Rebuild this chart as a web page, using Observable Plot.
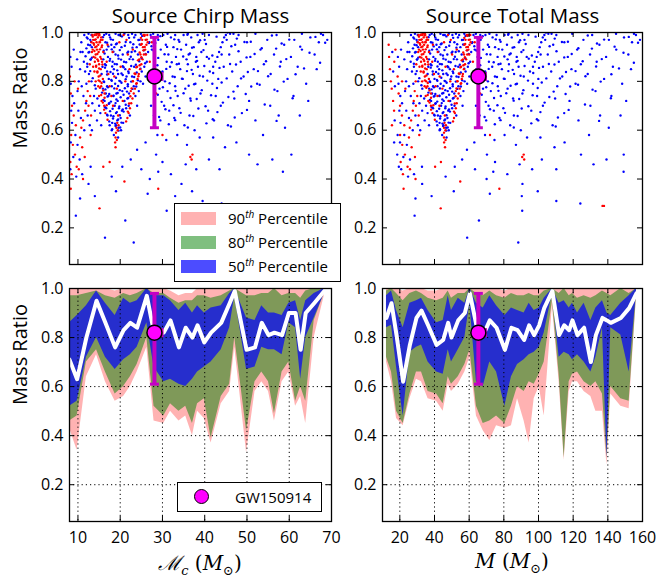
<!DOCTYPE html>
<html><head><meta charset="utf-8">
<script src="https://cdn.jsdelivr.net/npm/d3@7"></script>
<script src="https://cdn.jsdelivr.net/npm/@observablehq/plot@0.6"></script>
<style>
body{margin:0;background:#fff;}
#wrap{position:relative;width:659px;height:580px;font-family:"Open Sans",sans-serif;color:#000;overflow:hidden;}
#wrap svg{position:absolute;left:0;top:0;}
.leg{position:absolute;background:#fff;border:1px solid #000;box-sizing:border-box;}
.sw{position:absolute;left:6px;width:35px;height:13px;}
.lt{position:absolute;left:53px;font-size:15px;line-height:15px;white-space:nowrap;}
.lt sup{font-size:10px;font-style:italic;vertical-align:6px;line-height:0;}
.xl{position:absolute;top:549px;font-family:"DejaVu Serif",serif;font-size:20px;white-space:nowrap;transform:translateX(-50%);}
.xl sub{font-size:13px;}
</style></head><body><div id="wrap"></div>
<script>
// ---- tick labels ----
const yTicks = [0.2, 0.4, 0.6, 0.8, 1.0];
const mcTicks = [10, 20, 30, 40, 50, 60, 70];
const mTicks = [20, 40, 60, 80, 100, 120, 140, 160];

// ---- GW150914 (source chirp mass, total mass, mass ratio: low, median, high) ----
const gwMc = [26.6, 28.1, 29.9];
const gwM = [61.9, 65.3, 69.4];
const gwQ = [0.61, 0.82, 0.98];

// ---- percentile bands vs chirp mass ----
const mcX   = [8.0,9.8,12.0,14.4,16.5,18.8,20.8,22.4,24.0,26.3,28.0,30.3,31.9,33.9,35.5,37.1,38.3,39.9,41.5,43.9,45.9,47.1,49.9,51.9,53.5,55.1,56.5,58.3,59.9,61.5,62.7,63.9,65.9,68.3];
const mcMed = [0.71,0.63,0.80,0.95,0.86,0.76,0.83,0.86,0.84,0.97,0.82,0.82,0.87,0.76,0.84,0.80,0.85,0.78,0.82,0.86,0.94,0.99,0.75,0.76,0.86,0.81,0.82,0.81,0.90,0.90,0.75,0.90,0.94,0.99];
const mc50Hi= [0.86,0.89,0.93,0.99,0.94,0.89,0.96,0.94,0.95,1.00,0.97,0.97,0.95,0.91,0.94,0.90,0.93,0.90,0.92,0.93,0.98,1.00,0.88,0.87,0.93,0.90,0.90,0.89,0.94,0.95,0.87,0.95,0.98,1.00];
const mc50Lo= [0.52,0.54,0.72,0.80,0.72,0.67,0.71,0.73,0.76,0.86,0.68,0.62,0.63,0.61,0.60,0.63,0.66,0.68,0.70,0.75,0.84,0.97,0.67,0.68,0.76,0.75,0.75,0.73,0.86,0.84,0.63,0.80,0.88,0.98];
const mc80Hi= [0.97,0.97,0.98,0.99,0.97,0.96,0.98,0.97,0.98,1.00,0.98,0.98,0.96,0.94,0.95,0.95,0.97,0.97,0.96,0.97,0.99,1.00,0.97,0.97,0.98,0.98,1.00,0.97,0.98,0.98,0.96,0.99,1.00,1.00];
const mc80Lo= [0.46,0.48,0.70,0.75,0.66,0.57,0.60,0.64,0.69,0.80,0.52,0.48,0.53,0.50,0.52,0.45,0.53,0.55,0.39,0.56,0.61,0.80,0.42,0.62,0.66,0.62,0.49,0.66,0.70,0.54,0.60,0.54,0.87,0.98];
const mc90Hi= [1.00,1.00,1.00,1.00,1.00,0.99,1.00,1.00,1.00,1.00,1.00,1.00,0.99,0.97,0.98,0.98,1.00,1.00,1.00,1.00,1.00,1.00,1.00,1.00,1.00,1.00,1.00,1.00,1.00,1.00,1.00,1.00,1.00,1.00];
const mc90Lo= [0.43,0.34,0.64,0.73,0.62,0.54,0.56,0.60,0.66,0.76,0.46,0.45,0.50,0.46,0.48,0.40,0.50,0.47,0.37,0.53,0.58,0.76,0.33,0.58,0.62,0.58,0.46,0.62,0.66,0.52,0.56,0.45,0.80,0.97];

// ---- percentile bands vs total mass ----
const tmX   = [12.3,15.2,18.1,21.9,25.8,29.6,32.5,36.3,41.2,45.0,47.9,49.8,53.7,57.5,60.4,64.2,68.1,71.9,75.8,80.6,84.4,87.9,91.7,94.6,97.5,100.4,103.3,108.0,111.9,114.8,117.7,119.6,122.5,126.3,130.2,133.1,136.9,139.5,141.7,147.5,152.3,156.5];
const tmMed = [0.88,0.94,0.81,0.62,0.77,0.88,0.91,0.85,0.77,0.79,0.86,0.80,0.87,0.90,0.98,0.85,0.81,0.87,0.84,0.75,0.84,0.83,0.79,0.85,0.81,0.85,0.92,0.99,0.81,0.85,0.83,0.87,0.81,0.84,0.70,0.81,0.88,0.87,0.86,0.88,0.92,0.98];
const tm50Hi= [0.97,0.99,0.91,0.84,0.94,0.95,0.96,0.91,0.86,0.87,0.97,0.91,0.96,0.94,1.00,0.94,0.92,0.97,0.93,0.89,0.92,0.91,0.90,0.94,0.91,0.92,0.96,1.00,0.94,0.95,0.92,0.94,0.90,0.94,0.87,0.92,0.95,0.90,0.89,0.94,0.97,1.00];
const tm50Lo= [0.84,0.85,0.68,0.48,0.74,0.76,0.77,0.70,0.66,0.65,0.75,0.70,0.75,0.80,0.94,0.62,0.60,0.70,0.66,0.52,0.64,0.69,0.71,0.73,0.74,0.76,0.82,0.98,0.72,0.74,0.73,0.71,0.73,0.70,0.66,0.72,0.84,0.31,0.84,0.81,0.66,0.98];
const tm80Hi= [0.99,1.00,0.98,0.95,0.98,0.99,0.98,0.96,0.95,0.96,0.99,0.96,0.98,0.98,1.00,0.98,0.97,0.99,0.97,0.96,0.98,0.97,0.97,0.98,0.97,0.97,0.99,1.00,0.98,1.00,0.97,0.98,0.96,0.97,0.96,0.97,0.99,0.98,0.97,1.00,0.98,1.00];
const tm80Lo= [0.72,0.66,0.50,0.45,0.57,0.66,0.66,0.58,0.57,0.53,0.64,0.61,0.64,0.69,0.75,0.52,0.45,0.46,0.48,0.45,0.52,0.60,0.58,0.62,0.61,0.65,0.70,0.95,0.65,0.31,0.62,0.65,0.66,0.62,0.60,0.62,0.57,0.31,0.60,0.55,0.54,0.97];
const tm90Hi= [1.00,1.00,1.00,0.99,1.00,1.00,1.00,0.99,0.99,1.00,1.00,1.00,1.00,1.00,1.00,1.00,1.00,1.00,1.00,0.99,1.00,1.00,1.00,1.00,1.00,1.00,1.00,1.00,1.00,1.00,1.00,1.00,1.00,1.00,1.00,1.00,1.00,1.00,1.00,1.00,1.00,1.00];
const tm90Lo= [0.70,0.62,0.47,0.44,0.55,0.63,0.62,0.55,0.54,0.50,0.61,0.58,0.61,0.66,0.72,0.48,0.42,0.38,0.44,0.43,0.44,0.55,0.46,0.37,0.55,0.60,0.48,0.93,0.62,0.30,0.58,0.62,0.62,0.58,0.56,0.50,0.50,0.28,0.57,0.52,0.51,0.96];

// ---- simulated detections: "chirpMass massRatio" pairs ----
const redPts = `13.4 .99,13.6 .97,13.8 .95,13.5 .93,13.9 .99,14.0 .97,14.1 .94,14.2 .91,14.3 .99,14.4 .96,14.5 .93,14.6 .89,14.7 .98,14.8 .95,14.9 .92,15.0 .87,15.1 .99,15.2 .96,15.3 .90,15.4 .85,15.5 .98,15.6 .94,15.7 .88,13.7 .90,14.0 .88,14.3 .86,14.6 .84,14.9 .82,15.2 .80,15.5 .78,13.2 .96,13.3 .92,14.1 1.0,14.5 .995,15.0 .995,15.8 .97,16.0 .92,13.9 .84,14.8 .78,15.0 .74,15.6 .72,16.2 .70,16.5 .67,16.3 .75,15.9 .81,14.2 .80,13.6 .86,
25.8 .99,26.0 .97,26.2 .95,25.9 .93,25.6 .91,25.3 .89,25.0 .87,24.7 .85,24.4 .83,24.1 .81,23.8 .79,23.5 .77,23.2 .75,22.9 .73,22.6 .71,22.3 .69,22.0 .67,21.7 .65,25.5 .99,25.2 .97,24.9 .95,26.4 .99,26.5 .96,25.4 .94,24.8 .91,24.5 .89,24.0 .86,23.6 .83,23.0 .80,22.5 .76,26.1 .91,
19.5 .66,19.3 .63,19.1 .61,19.0 .59,18.9 .57,18.8 .55,18.9 .53,19.2 .56,19.4 .60,19.6 .62,
16.8 .88,17.2 .83,17.5 .78,17.9 .74,18.3 .70,18.6 .82,19.2 .77,20.1 .86,20.6 .72,21.2 .80,21.8 .91,22.2 .85,17.0 .95,18.2 .92,19.8 .96,20.8 .99,21.5 .97,23.0 .93,12.8 .87,12.6 .80,12.3 .76,12.0 .72,11.7 .68,11.2 .64,10.8 .61,12.9 .74,12.5 .70,13.1 .66,
8.3 .75,8.6 .70,9.0 .66,9.5 .62,8.4 .58,8.8 .54,9.3 .50,8.2 .47,9.7 .45,10.2 .44,8.5 .42,8.3 .36,10.5 .57,11.0 .53,11.6 .49,10.0 .77,9.2 .80,8.1 .82,11.2 .40,15.1 .28,16.0 .45,17.5 .47,
29.0 .36,36.6 .49,36.9 .48,37.1 .50,30.0 .58,28.5 .75,27.0 .88,27.5 .96,48.0 .29,48.3 .29,21.0 .39,13.0 .58,
6.0 .90,6.2 .85,6.4 .80,6.6 .77,6.9 .72,7.1 .68,6.5 .62,7.3 .88,7.6 .93,5.9 .95,
13.5 .983,14.2 .972,14.9 .988,15.4 .969,24.9 .978,25.7 .986,26.3 .971,13.7 .956,14.4 .943,15.1 .961,15.7 .947,25.1 .953,25.8 .941,
13.9 .924,14.6 .912,15.2 .931,24.6 .918,25.5 .927,14.1 .897,14.8 .883,15.5 .892,24.2 .886,25.0 .899,14.3 .864,15.0 .853,15.8 .869,23.8 .857,24.6 .866,
14.6 .836,15.3 .824,23.4 .832,24.3 .821,14.9 .804,15.6 .793,23.0 .801,23.9 .792,15.2 .774,16.0 .763,22.7 .771,15.5 .744,16.3 .733,22.4 .739,
15.9 .713,16.8 .702,22.1 .709,16.2 .684,21.8 .676,17.0 .643,21.4 .636`;

const bluePts = `12.1 .98,12.4 .95,12.7 .92,13.0 .89,12.2 .86,12.6 .83,13.2 .80,12.9 .97,13.3 .94,16.2 .99,16.5 .96,16.8 .93,17.1 .90,16.4 .87,16.9 .84,17.3 .81,17.6 .98,17.9 .95,18.2 .88,18.5 .85,18.8 .79,19.1 .75,19.4 .72,19.7 .69,20.0 .99,20.3 .94,20.6 .91,20.9 .88,21.2 .85,21.5 .82,21.8 .78,22.1 .75,22.4 .96,22.7 .92,23.0 .89,23.3 .86,23.6 .99,23.9 .94,24.2 .91,24.6 .97,18.0 .78,18.4 .74,18.7 .70,19.0 .67,19.3 .64,19.6 .61,20.1 .65,20.4 .68,20.7 .63,17.4 .71,17.8 .66,18.1 .63,16.6 .75,16.9 .78,17.2 .74,20.0 .80,20.5 .76,19.5 .83,19.2 .87,18.9 .91,18.6 .94,18.3 .97,21.0 .72,21.4 .69,21.7 .73,22.0 .70,22.3 .66,22.8 .82,23.2 .78,23.6 .74,24.0 .70,24.4 .76,24.8 .80,25.1 .84,25.4 .79,25.7 .86,26.0 .82,26.3 .88,26.6 .92,26.9 .96,27.2 .99,16.0 .89,15.8 .86,15.6 .83,16.1 .80,15.9 .77,16.3 .72,16.7 .69,17.0 .66,17.5 .62,18.0 .60,18.5 .58,19.0 .62,19.5 .57,20.2 .60,14.2 .77,14.6 .73,15.0 .70,15.3 .67,13.8 .74,13.4 .71,14.0 .68,14.5 .64,15.5 .62,12.0 .79,11.7 .84,11.4 .88,11.1 .92,10.8 .96,11.5 .99,10.5 .85,10.2 .80,9.9 .76,10.9 .78,11.3 .74,11.9 .71,12.3 .66,12.8 .62,13.3 .60,
8.2 .90,8.5 .86,8.3 .79,8.7 .74,8.4 .68,9.1 .71,8.6 .63,9.4 .58,8.3 .55,9.9 .54,8.9 .49,8.2 .44,9.6 .41,10.4 .48,9.0 .93,9.8 .89,10.6 .92,10.1 .68,10.7 .65,11.5 .60,
27.5 .93,28.2 .90,29.0 .97,29.6 .93,30.2 .99,30.8 .95,31.4 .91,32.0 .98,32.6 .94,33.2 .90,33.8 .97,34.4 .93,35.0 .99,35.6 .95,36.2 .91,36.8 .98,37.4 .94,38.0 .90,38.6 .96,39.2 .92,27.8 .85,28.6 .81,29.3 .77,30.0 .84,30.6 .80,31.2 .76,31.8 .86,32.4 .82,33.0 .78,33.6 .74,34.2 .85,34.8 .81,35.4 .77,36.0 .87,36.6 .73,37.2 .83,37.8 .79,38.4 .86,39.0 .75,39.6 .82,27.3 .70,28.0 .66,29.5 .64,30.4 .70,31.6 .68,32.8 .65,34.0 .69,35.2 .62,36.4 .66,37.6 .60,28.8 .58,30.9 .56,33.5 .58,35.8 .54,38.8 .57,31.0 .88,33.4 .87,35.7 .89,37.9 .88,40.0 .97,
42.0 .86,42.5 .88,43.0 .90,43.4 .92,43.8 .94,44.2 .96,44.6 .98,45.0 .99,45.4 1.0,46.0 .995,45.2 .97,44.0 .91,
40.5 .90,41.2 .84,41.8 .79,42.6 .74,43.2 .81,44.5 .86,45.8 .91,46.5 .84,47.2 .95,47.8 .78,48.5 .88,49.2 .82,50.0 .96,50.8 .90,51.6 .85,52.4 .79,53.2 .93,54.0 .87,54.8 .97,55.6 .83,56.4 .91,57.2 .76,58.0 .88,58.8 .95,59.6 .81,60.4 .90,61.2 .97,62.0 .86,63.0 .93,64.0 .79,65.0 .98,66.0 .91,67.0 .96,68.0 .99,69.0 .97,40.8 .68,42.2 .64,43.8 .70,45.5 .62,47.0 .73,48.8 .67,50.5 .72,52.0 .64,53.8 .58,55.5 .70,57.5 .66,59.0 .61,61.0 .74,62.5 .66,64.5 .72,66.5 .85,42.0 .57,44.8 .53,47.5 .55,50.5 .50,52.5 .46,56.0 .48,58.5 .43,60.5 .50,41.0 .48,43.5 .44,
11.0 .42,12.5 .38,14.0 .33,16.4 .16,21.2 .23,23.2 .14,18.0 .41,20.5 .45,22.5 .48,25.0 .44,27.0 .40,26.5 .34,30.0 .47,32.0 .42,34.5 .38,37.0 .35,39.5 .31,44.0 .30,9.5 .25,10.5 .32,13.0 .45,24.0 .52,26.0 .55,28.5 .50,29.0 .43,33.0 .33,35.5 .46,38.0 .44,31.0 .27,19.0 .35,
12.5 .995,13.2 .99,16.7 .995,17.4 .99,18.9 .995,19.6 .99,21.0 .995,21.9 .99,22.8 .995,23.3 .98,24.9 .995,27.8 .995,28.9 .99,31.2 .995,33.0 .99,36.0 .995,38.3 .99,39.5 .995,41.0 .99,46.8 .995,48.0 .99,52.0 .995,57.0 .99,63.0 .995,67.5 .995,
6.8 .92,7.0 .84,7.4 .78,7.2 .64,7.8 .58,7.5 .50,6.9 .55,7.7 .45,
12.3 .975,13.1 .962,15.9 .981,16.9 .958,17.8 .972,19.2 .955,20.4 .984,21.3 .961,22.1 .978,23.1 .952,24.3 .969,25.2 .986,26.8 .957,
12.0 .935,12.9 .948,16.1 .925,17.2 .943,18.0 .931,19.0 .952,19.9 .928,21.1 .946,21.9 .921,22.9 .938,24.6 .951,25.6 .927,27.4 .944,
11.8 .903,12.5 .918,13.3 .897,16.3 .914,17.6 .892,18.4 .921,19.5 .906,20.2 .889,21.7 .917,22.5 .901,23.5 .923,25.1 .895,26.0 .912,
12.2 .872,13.0 .889,16.6 .866,17.5 .884,18.7 .871,19.6 .893,20.6 .862,21.4 .878,22.2 .891,23.7 .868,24.5 .882,25.9 .874,
12.9 .842,16.4 .856,17.7 .838,18.1 .861,19.3 .845,20.3 .832,20.8 .858,21.9 .841,22.6 .863,23.9 .836,24.8 .852,
13.5 .813,16.9 .828,17.9 .806,18.3 .831,19.0 .815,19.8 .802,20.6 .826,21.3 .809,22.0 .834,23.3 .818,24.2 .804,
14.0 .784,16.2 .797,17.1 .776,18.0 .802,19.5 .781,20.3 .794,21.1 .772,21.8 .788,22.6 .799,23.8 .779,
15.7 .754,16.5 .767,17.4 .748,18.6 .771,19.4 .752,19.9 .764,20.8 .745,21.6 .758,22.9 .769,
16.0 .724,17.0 .738,17.8 .717,18.4 .741,19.1 .726,20.1 .735,20.9 .719,21.9 .732,
16.4 .694,17.3 .708,18.2 .688,18.9 .711,19.8 .697,20.6 .685,21.3 .704,
16.9 .663,17.6 .678,18.4 .657,19.2 .674,19.9 .661,20.8 .676,17.4 .636,18.3 .648,18.8 .627,19.5 .644,20.3 .631,18.1 .604,18.9 .617,19.6 .598,20.0 .611,
29.5 .985,32.8 .972,35.9 .991,38.9 .968,42.8 .983,47.6 .975,50.9 .962,55.9 .988,60.0 .971,66.2 .982,
28.3 .957,31.1 .941,34.0 .962,37.0 .938,40.3 .953,46.3 .944,49.4 .961,53.5 .936,58.2 .955,62.6 .942,68.5 .958,
27.9 .926,30.5 .911,33.5 .932,36.5 .914,39.7 .928,41.8 .906,48.0 .923,51.8 .912,56.9 .934,64.8 .917,
29.0 .896,32.2 .878,34.9 .902,38.2 .884,41.0 .893,46.0 .871,49.9 .898,54.5 .882,59.3 .891,67.3 .876,
28.8 .866,30.9 .851,33.9 .872,36.9 .847,39.9 .863,43.5 .855,47.4 .869,52.6 .842,57.8 .861,63.5 .853,
29.9 .836,32.9 .818,35.8 .842,38.8 .823,42.0 .834,45.2 .812,50.2 .838,55.0 .821,61.5 .829,
28.5 .806,31.7 .792,34.6 .811,37.5 .788,40.6 .803,44.0 .795,48.6 .812,53.0 .786,58.7 .799,
30.1 .776,33.1 .761,36.2 .782,39.3 .764,42.9 .773,46.8 .758,51.0 .779,56.5 .766,
28.9 .745,31.9 .732,35.0 .751,38.1 .728,41.5 .743,45.6 .736,49.7 .748,60.8 .731,
29.8 .716,32.6 .702,36.7 .721,40.2 .698,44.3 .713,54.2 .705,30.7 .686,34.3 .671,38.5 .689,43.0 .674,50.0 .683,
29.2 .654,33.0 .641,37.3 .658,41.9 .645,47.1 .652,57.0 .638,31.5 .624,36.0 .611,40.4 .628,46.2 .615`;

// total mass from chirp mass and mass ratio: M = Mc * ((1+q)^2/q)^(3/5)
const totalMass = (mc, q) => mc * Math.pow((1 + q) * (1 + q) / q, 0.6);
const parsePairs = s => s.split(",").map(p => p.trim()).filter(p => p).map(p => {
  const [mc, q] = p.split(/\s+/).map(Number);
  return {mc, q, m: totalMass(mc, q)};
});
const red = parsePairs(redPts);
const blue = parsePairs(bluePts);

const mcBand = mcX.map((x, i) => ({x, med: mcMed[i], a1: mc50Lo[i], a2: mc50Hi[i], b1: mc80Lo[i], b2: mc80Hi[i], c1: mc90Lo[i], c2: mc90Hi[i]}));
const tmBand = tmX.map((x, i) => ({x, med: tmMed[i], a1: tm50Lo[i], a2: tm50Hi[i], b1: tm80Lo[i], b2: tm80Hi[i], c1: tm90Lo[i], c2: tm90Hi[i]}));
const gwMcD = [{x: gwMc[1], lo: gwMc[0], hi: gwMc[2], y: gwQ[1], ylo: gwQ[0], yhi: gwQ[2]}];
const gwMD  = [{x: gwM[1], lo: gwM[0], hi: gwM[2], y: gwQ[1], ylo: gwQ[0], yhi: gwQ[2]}];

const W = 659, H = 580;
const capH = {draw(ctx) { ctx.moveTo(-4.5, 0); ctx.lineTo(4.5, 0); }};
const capV = {draw(ctx) { ctx.moveTo(0, -4.5); ctx.lineTo(0, 4.5); }};
const EB = "#c400c4";

function gwMarks(d) {
  return [
    Plot.ruleY(d, {y: "y", x1: "lo", x2: "hi", stroke: EB, strokeWidth: 3.5}),
    Plot.dot(d, {x: "hi", y: "y", symbol: capV, stroke: EB, strokeWidth: 3, fill: "none"}),
    Plot.ruleX(d, {x: "x", y1: "ylo", y2: "yhi", stroke: EB, strokeWidth: 4}),
    Plot.dot(d.flatMap(e => [{x: e.x, y: e.ylo}, {x: e.x, y: e.yhi}]), {x: "x", y: "y", symbol: capH, stroke: EB, strokeWidth: 3, fill: "none"}),
    Plot.dot(d, {x: "x", y: "y", r: 7.5, fill: "#ff00ff", stroke: "black", strokeWidth: 1.5})
  ];
}

function panel({frame: [l, t, r, b], xDomain, xTicks, top, band, xKey, gw, title, ylabel}) {
  const w = r - l, h = b - t;
  const marks = [];
  if (top) {
    marks.push(Plot.dot(blue, {x: xKey, y: "q", r: 1.2, fill: "#0000ff", clip: true}));
    marks.push(Plot.dot(red, {x: xKey, y: "q", r: 1.2, fill: "#ff0000", clip: true}));
  } else {
    marks.push(Plot.areaY(band, {x: "x", y1: "c1", y2: "c2", fill: "#ff0000", fillOpacity: 0.3}));
    marks.push(Plot.areaY(band, {x: "x", y1: "b1", y2: "b2", fill: "#008000", fillOpacity: 0.5}));
    marks.push(Plot.areaY(band, {x: "x", y1: "a1", y2: "a2", fill: "#0000ff", fillOpacity: 0.7}));
    marks.push(Plot.gridX(xTicks, {stroke: "black", strokeOpacity: 1, strokeWidth: 1, strokeDasharray: "1.2,3"}));
    marks.push(Plot.gridY(yTicks, {stroke: "black", strokeOpacity: 1, strokeWidth: 1, strokeDasharray: "1.2,3"}));
    marks.push(Plot.line(band, {x: "x", y: "med", stroke: "white", strokeWidth: 4}));
    marks.push(Plot.axisX(xTicks, {anchor: "bottom", tickSize: 0, tickPadding: 10, fontSize: 16, label: null}));
  }
  marks.push(...gwMarks(gw));
  marks.push(
    Plot.tickX(xTicks, {x: d => d, insetTop: h - 5, stroke: "black"}),
    Plot.tickX(xTicks, {x: d => d, insetBottom: h - 5, stroke: "black"}),
    Plot.tickY(yTicks, {y: d => d, insetRight: w - 5, stroke: "black"}),
    Plot.tickY(yTicks, {y: d => d, insetLeft: w - 5, stroke: "black"}),
    Plot.frame({stroke: "black", strokeWidth: 1.3}),
    Plot.axisY(yTicks, {anchor: "left", tickSize: 0, tickPadding: 6, tickFormat: d3.format(".1f"), fontSize: 16, label: null})
  );
  if (title) marks.push(Plot.text([title], {text: d => d, frameAnchor: "top", dy: -16, fontSize: 20.5, lineAnchor: "middle"}));
  if (ylabel) marks.push(Plot.text([ylabel], {text: d => d, frameAnchor: "left", dx: -49, rotate: -90, fontSize: 20, lineAnchor: "middle"}));
  return Plot.plot({
    width: W, height: H,
    marginLeft: l, marginRight: W - r, marginTop: t, marginBottom: H - b,
    x: top ? {domain: xDomain, axis: null} : {domain: xDomain},
    y: {domain: [0.05, 1.0]},
    style: {background: "transparent", fontFamily: "'Open Sans', sans-serif", color: "black", overflow: "visible"},
    marks
  });
}

const wrap = document.getElementById("wrap");
wrap.append(
  panel({frame: [69, 32, 331, 264], xDomain: [8, 70], xTicks: mcTicks, top: true, xKey: "mc", gw: gwMcD, title: "Source Chirp Mass", ylabel: "Mass Ratio"}),
  panel({frame: [382, 32, 642, 264], xDomain: [10, 160], xTicks: mTicks, top: true, xKey: "m", gw: gwMD, title: "Source Total Mass"}),
  panel({frame: [69, 288, 331, 521], xDomain: [8, 70], xTicks: mcTicks, top: false, band: mcBand, gw: gwMcD, ylabel: "Mass Ratio"}),
  panel({frame: [382, 288, 642, 521], xDomain: [10, 160], xTicks: mTicks, top: false, band: tmBand, gw: gwMD})
);

wrap.insertAdjacentHTML("beforeend", `
<div class="leg" style="left:174px;top:203px;width:167px;height:79px;">
  <div class="sw" style="top:8px;background:rgba(255,0,0,0.3)"></div><div class="lt" style="top:7px">90<sup>th</sup> Percentile</div>
  <div class="sw" style="top:32px;background:rgba(0,128,0,0.5)"></div><div class="lt" style="top:31px">80<sup>th</sup> Percentile</div>
  <div class="sw" style="top:56px;background:rgba(0,0,255,0.7)"></div><div class="lt" style="top:55px">50<sup>th</sup> Percentile</div>
</div>
<div class="leg" style="left:177px;top:482px;width:145px;height:30px;">
  <div style="position:absolute;left:16px;top:6px;width:15px;height:15px;border-radius:50%;background:#ff00ff;border:1.5px solid #000;box-sizing:border-box;"></div>
  <div class="lt" style="left:57px;top:7px;">GW150914</div>
</div>
<div class="xl" style="left:200px;"><i>ℳ</i><sub><i>c</i></sub> (<i>M</i><sub>⊙</sub>)</div>
<div class="xl" style="left:512px;"><i>M</i> (<i>M</i><sub>⊙</sub>)</div>
`);
</script>
</body></html>
